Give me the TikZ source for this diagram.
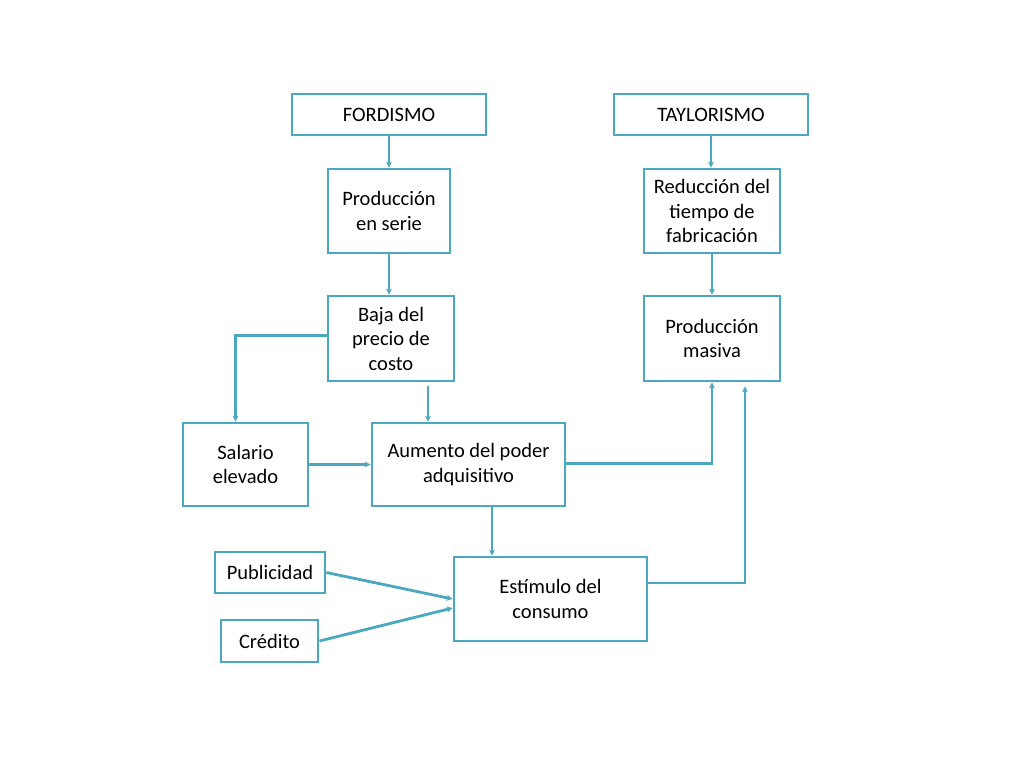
\documentclass[tikz,border=0pt]{standalone}
\usepackage{fontspec}
\setmainfont{Carlito}
\usetikzlibrary{arrows.meta}
\definecolor{boxc}{HTML}{4BA8C0}
\begin{document}
\begin{tikzpicture}[x=1pt,y=-1pt,
  box/.style={draw=boxc,line width=2.8pt,rectangle,inner sep=0pt,align=center,
    font=\fontsize{20.5}{24.5}\selectfont,text=black},
  conn/.style={draw=boxc,line width=2.8pt,-{Stealth[length=6pt,width=6pt]}}]
\useasboundingbox[fill=white] (0,0) rectangle (1024,768);
\node[box,minimum width=194pt,minimum height=41pt] (ford) at (389,114.5) {FORDISMO};
\node[box,minimum width=194pt,minimum height=41pt] (tay) at (711,114.5) {TAYLORISMO};
\node[box,minimum width=122pt,minimum height=84pt] (serie) at (389,211) {Producción\\en serie};
\node[box,minimum width=136pt,minimum height=84pt] (red) at (712,211) {Reducción del\\tiempo de\\fabricación};
\node[box,minimum width=126pt,minimum height=85pt] (baja) at (391,338.5) {Baja del\\precio de\\costo};
\node[box,minimum width=136pt,minimum height=85pt] (masiva) at (712,338.5) {Producción\\masiva};
\node[box,minimum width=125pt,minimum height=83pt] (sal) at (245.5,464.5) {Salario\\elevado};
\node[box,minimum width=193pt,minimum height=83pt] (aum) at (468.5,464.5) {Aumento del poder\\adquisitivo};
\node[box,minimum width=110pt,minimum height=41pt] (pub) at (270,572.5) {Publicidad};
\node[box,minimum width=97pt,minimum height=42pt] (cred) at (269.5,641) {Crédito};
\node[box,minimum width=193pt,minimum height=84pt] (est) at (550.5,599) {Estímulo del\\consumo};
\draw[conn] (ford.south) -- (serie.north);
\draw[conn] (serie.south) -- (serie.south |- baja.north);
\draw[conn] (tay.south) -- (tay.south |- red.north);
\draw[conn] (red.south) -- (masiva.north);
\draw[conn] ([yshift=3pt]baja.west) -| ([xshift=-10pt]sal.north);
\draw[conn] ([xshift=37pt,yshift=-4pt]baja.south) -- ([xshift=37pt]baja.south |- aum.north);
\draw[conn] (sal.east) -- (aum.west);
\draw[conn] ([yshift=1pt]aum.east) -| (masiva.south);
\draw[conn] ([xshift=23.5pt]aum.south) -- ([xshift=23.5pt]aum.south |- est.north);
\draw[conn] ([yshift=16pt]est.east) -| ([xshift=33pt,yshift=-4pt]masiva.south);
\draw[conn] (pub.east) -- (est.west);
\draw[conn] (cred.east) -- ([yshift=-9pt]est.west);
\end{tikzpicture}
\end{document}
